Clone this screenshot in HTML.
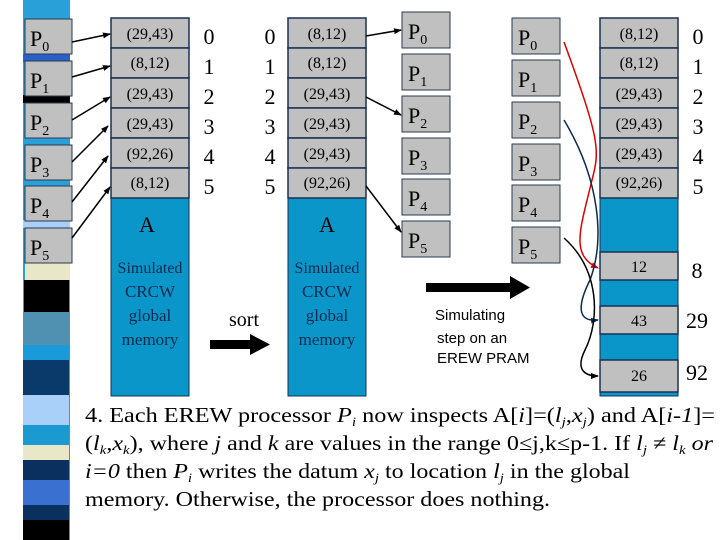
<!DOCTYPE html>
<html><head><meta charset="utf-8"><style>
body{margin:0;background:#fff;}
svg{display:block;font-family:"Liberation Serif",serif;}
</style></head><body>
<svg width="720" height="540" viewBox="0 0 720 540" xmlns="http://www.w3.org/2000/svg">
<defs>
<marker id="ah" markerWidth="8" markerHeight="8" refX="7" refY="4" orient="auto" markerUnits="userSpaceOnUse"><path d="M0,1 L8,4 L0,7 z" fill="#000"/></marker>
<marker id="ahr" markerWidth="8" markerHeight="8" refX="7" refY="4" orient="auto" markerUnits="userSpaceOnUse"><path d="M0,1 L8,4 L0,7 z" fill="#d00"/></marker>
<marker id="ahn" markerWidth="8" markerHeight="8" refX="7" refY="4" orient="auto" markerUnits="userSpaceOnUse"><path d="M0,1 L8,4 L0,7 z" fill="#0a2a50"/></marker>
</defs>
<!-- stripe -->
<rect x="23" y="0" width="47" height="540" fill="#2aa0d8"/>
<rect x="23" y="54" width="47" height="8" fill="#2a60c8"/>
<rect x="23" y="95" width="47" height="8" fill="#000"/>
<rect x="23" y="137" width="47" height="8" fill="#2aa0d8"/>
<rect x="23" y="220" width="47" height="8" fill="#a8d0f8"/>
<rect x="25" y="263" width="45" height="17" fill="#e8e8c8"/>
<rect x="24" y="280" width="45" height="32" fill="#000"/>
<rect x="23" y="312" width="46" height="33" fill="#5090b0"/>
<rect x="23" y="345" width="46" height="15" fill="#1a9ad8"/>
<rect x="23" y="360" width="46" height="35" fill="#0a3a6a"/>
<rect x="23" y="395" width="46" height="30" fill="#a8d0f8"/>
<rect x="23" y="425" width="46" height="20" fill="#1a9ad0"/>
<rect x="23" y="445" width="46" height="15" fill="#e8e8c8"/>
<rect x="23" y="460" width="46" height="20" fill="#0a3060"/>
<rect x="23" y="480" width="46" height="25" fill="#3a70d0"/>
<rect x="23" y="505" width="46" height="15" fill="#0a3060"/>
<rect x="23" y="520" width="46" height="20" fill="#000"/>
<g fill="#c0c0c0" stroke="#2a3a50" stroke-width="1">
<rect x="25" y="19" width="47" height="35"/><rect x="25" y="61" width="47" height="35"/><rect x="25" y="103" width="47" height="35"/><rect x="25" y="145" width="47" height="35"/><rect x="25" y="186" width="47" height="35"/><rect x="25" y="228" width="47" height="35"/>
<rect x="402" y="12" width="48" height="36"/><rect x="402" y="54" width="48" height="36"/><rect x="402" y="96" width="48" height="36"/><rect x="402" y="138" width="48" height="36"/><rect x="402" y="179" width="48" height="36"/><rect x="402" y="221" width="48" height="36"/>
<rect x="512" y="18" width="48" height="36"/><rect x="512" y="60" width="48" height="36"/><rect x="512" y="102" width="48" height="36"/><rect x="512" y="144" width="48" height="36"/><rect x="512" y="185" width="48" height="36"/><rect x="512" y="227" width="48" height="36"/>
</g>
<g font-size="22" fill="#000">
<text x="30" y="46">P<tspan font-size="14" dy="5">0</tspan></text><text x="30" y="88">P<tspan font-size="14" dy="5">1</tspan></text><text x="30" y="130">P<tspan font-size="14" dy="5">2</tspan></text><text x="30" y="172">P<tspan font-size="14" dy="5">3</tspan></text><text x="30" y="213">P<tspan font-size="14" dy="5">4</tspan></text><text x="30" y="255">P<tspan font-size="14" dy="5">5</tspan></text>
<text x="408" y="39">P<tspan font-size="14" dy="5">0</tspan></text><text x="408" y="81">P<tspan font-size="14" dy="5">1</tspan></text><text x="408" y="123">P<tspan font-size="14" dy="5">2</tspan></text><text x="408" y="165">P<tspan font-size="14" dy="5">3</tspan></text><text x="408" y="206">P<tspan font-size="14" dy="5">4</tspan></text><text x="408" y="248">P<tspan font-size="14" dy="5">5</tspan></text>
<text x="518" y="45">P<tspan font-size="14" dy="5">0</tspan></text><text x="518" y="87">P<tspan font-size="14" dy="5">1</tspan></text><text x="518" y="129">P<tspan font-size="14" dy="5">2</tspan></text><text x="518" y="171">P<tspan font-size="14" dy="5">3</tspan></text><text x="518" y="212">P<tspan font-size="14" dy="5">4</tspan></text><text x="518" y="254">P<tspan font-size="14" dy="5">5</tspan></text>
</g>
<!-- columns -->
<g stroke="#1a3050" stroke-width="1">
<rect x="111" y="18" width="78" height="378" fill="#0a96c8"/>
<rect x="288" y="18" width="78" height="378" fill="#0a96c8"/>
<rect x="600" y="18" width="78" height="378" fill="#0a96c8"/>
</g>
<g fill="#c0c0c0" stroke="#1a3050" stroke-width="1.5">
<rect x="111" y="18" width="78" height="30"/><rect x="111" y="48" width="78" height="30"/><rect x="111" y="78" width="78" height="30"/><rect x="111" y="108" width="78" height="30"/><rect x="111" y="138" width="78" height="30"/><rect x="111" y="168" width="78" height="30"/>
<rect x="288" y="18" width="78" height="30"/><rect x="288" y="48" width="78" height="30"/><rect x="288" y="78" width="78" height="30"/><rect x="288" y="108" width="78" height="30"/><rect x="288" y="138" width="78" height="30"/><rect x="288" y="168" width="78" height="30"/>
<rect x="600" y="18" width="78" height="30"/><rect x="600" y="48" width="78" height="30"/><rect x="600" y="78" width="78" height="30"/><rect x="600" y="108" width="78" height="30"/><rect x="600" y="138" width="78" height="30"/><rect x="600" y="168" width="78" height="30"/>
<rect x="600" y="252" width="78" height="28"/><rect x="600" y="306" width="78" height="28"/><rect x="600" y="360" width="78" height="32"/>
</g>
<g font-size="16" text-anchor="middle" fill="#000">
<text x="150" y="39">(29,43)</text><text x="150" y="68">(8,12)</text><text x="150" y="99">(29,43)</text><text x="150" y="129">(29,43)</text><text x="150" y="159">(92,26)</text><text x="150" y="188">(8,12)</text>
<text x="327" y="39">(8,12)</text><text x="327" y="68">(8,12)</text><text x="327" y="99">(29,43)</text><text x="327" y="129">(29,43)</text><text x="327" y="159">(29,43)</text><text x="327" y="188">(92,26)</text>
<text x="639" y="39">(8,12)</text><text x="639" y="68">(8,12)</text><text x="639" y="99">(29,43)</text><text x="639" y="129">(29,43)</text><text x="639" y="159">(29,43)</text><text x="639" y="188">(92,26)</text>
<text x="639" y="272">12</text><text x="639" y="326">43</text><text x="639" y="381">26</text>
</g>
<g font-size="22" text-anchor="middle" fill="#000">
<text x="209" y="44">0</text><text x="209" y="74">1</text><text x="209" y="104">2</text><text x="209" y="134">3</text><text x="209" y="164">4</text><text x="209" y="194">5</text>
<text x="270" y="44">0</text><text x="270" y="74">1</text><text x="270" y="104">2</text><text x="270" y="134">3</text><text x="270" y="164">4</text><text x="270" y="194">5</text>
<text x="698" y="44">0</text><text x="698" y="74">1</text><text x="698" y="104">2</text><text x="698" y="134">3</text><text x="698" y="164">4</text><text x="698" y="194">5</text>
<text x="697" y="278">8</text><text x="697" y="328">29</text><text x="697" y="380">92</text>
<text x="147" y="232">A</text><text x="327" y="232">A</text>
</g>
<g font-size="17" text-anchor="middle" fill="#0a2a50">
<text x="150" y="273" font-size="16">Simulated</text><text x="150" y="297">CRCW</text><text x="150" y="321">global</text><text x="150" y="345">memory</text>
<text x="327" y="273" font-size="16">Simulated</text><text x="327" y="297">CRCW</text><text x="327" y="321">global</text><text x="327" y="345">memory</text>
</g>
<text x="229" y="326" font-size="20">sort</text>
<rect x="210" y="340" width="42" height="9" fill="#000"/><path d="M250,334 L270,344.5 L250,355 z" fill="#000"/>
<rect x="426" y="283" width="86" height="9" fill="#000"/><path d="M510,276 L530,287.5 L510,299 z" fill="#000"/>
<g font-family="Liberation Sans,sans-serif" font-size="15" fill="#000">
<text x="435" y="320">Simulating</text><text x="437" y="343">step on an</text><text x="437" y="363">EREW PRAM</text>
</g>
<g stroke="#000" stroke-width="1.5" fill="none" marker-end="url(#ah)">
<line x1="72" y1="42" x2="110" y2="34"/><line x1="72" y1="77" x2="110" y2="66"/><line x1="72" y1="120" x2="110" y2="97"/><line x1="72" y1="162" x2="108" y2="126"/><line x1="72" y1="202" x2="108" y2="156"/><line x1="72" y1="238" x2="110" y2="187"/>
<line x1="366" y1="36" x2="401" y2="30"/><line x1="366" y1="97" x2="401" y2="115"/><line x1="366" y1="186" x2="401" y2="232"/>
</g>
<path d="M564,42 C600,140 600,150 592,180 C580,230 570,255 598,268" stroke="#d00" stroke-width="1.5" fill="none" marker-end="url(#ahr)"/>
<path d="M564,120 C600,180 605,240 590,280 C575,310 580,322 598,320" stroke="#0a2a50" stroke-width="1.5" fill="none" marker-end="url(#ahn)"/>
<path d="M564,238 C600,270 600,320 585,350 C575,370 585,376 598,376" stroke="#000" stroke-width="1.5" fill="none" marker-end="url(#ah)"/>
<g font-size="21" fill="#000">
<text x="85" y="422" textLength="630" lengthAdjust="spacingAndGlyphs">4. Each EREW processor <tspan font-style="italic">P<tspan font-size="13" dy="4">i</tspan></tspan><tspan dy="-4"> now inspects A[</tspan><tspan font-style="italic">i</tspan>]=(<tspan font-style="italic">l<tspan font-size="13" dy="4">j</tspan></tspan><tspan dy="-4">,</tspan><tspan font-style="italic">x<tspan font-size="13" dy="4">j</tspan></tspan><tspan dy="-4">) and A[</tspan><tspan font-style="italic">i-1</tspan>]=</text>
<text x="85" y="450" textLength="628" lengthAdjust="spacingAndGlyphs">(<tspan font-style="italic">l<tspan font-size="13" dy="4">k</tspan></tspan><tspan dy="-4">,</tspan><tspan font-style="italic">x<tspan font-size="13" dy="4">k</tspan></tspan><tspan dy="-4">), where </tspan><tspan font-style="italic">j</tspan> and <tspan font-style="italic">k</tspan> are values in the range 0≤j,k≤p-1. If <tspan font-style="italic">l<tspan font-size="13" dy="4">j</tspan></tspan><tspan dy="-4"> ≠ </tspan><tspan font-style="italic">l<tspan font-size="13" dy="4">k</tspan></tspan><tspan dy="-4" font-style="italic"> or</tspan></text>
<text x="85" y="478" textLength="545" lengthAdjust="spacingAndGlyphs"><tspan font-style="italic">i=0</tspan> then <tspan font-style="italic">P<tspan font-size="13" dy="4">i</tspan></tspan><tspan dy="-4"> writes the datum </tspan><tspan font-style="italic">x<tspan font-size="13" dy="4">j</tspan></tspan><tspan dy="-4"> to location </tspan><tspan font-style="italic">l<tspan font-size="13" dy="4">j</tspan></tspan><tspan dy="-4"> in the global</tspan></text>
<text x="85" y="506" textLength="465" lengthAdjust="spacingAndGlyphs">memory. Otherwise, the processor does nothing.</text>
</g>
</svg>
</body></html>
